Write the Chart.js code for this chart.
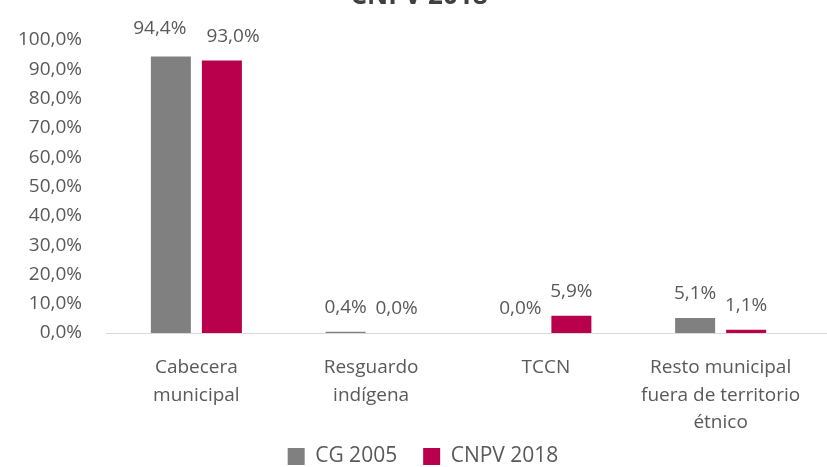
<!DOCTYPE html>
<html>
<head>
<meta charset="utf-8">
<script src="https://cdn.jsdelivr.net/npm/chart.js@4/dist/chart.umd.min.js"></script>
<style>
  html, body { margin: 0; padding: 0; background: #ffffff; }
  #wrap { width: 827px; height: 467px; position: relative; overflow: hidden; }
</style>
</head>
<body>
<div id="wrap"><canvas id="chart" width="827" height="467"></canvas></div>
<script>
// Share of population by area type, two census rounds
const categories = [
  ["Cabecera", "municipal"],
  ["Resguardo", "indígena"],
  "TCCN",
  ["Resto municipal", "fuera de territorio", "étnico"]
];
const cg2005 = [94.4, 0.4, 0.0, 5.1];
const cnpv2018 = [93.0, 0.0, 5.9, 1.1];
const seriesNames = ["CG 2005", "CNPV 2018"];
const yTickMax = 100;
const yTickStep = 10;
const titleText = "CNPV 2018";

const FONT = '"Open Sans", "Segoe UI", "DejaVu Sans", sans-serif';
const TEXT = '#595959';
const GRAY = '#808080';
const RED = '#B8004C';

const pct = v => v.toFixed(1).replace('.', ',') + '%';

// Bold title line, partly above the canvas top edge
const titlePlugin = {
  id: 'titleLine',
  afterDraw(chart) {
    const ctx = chart.ctx;
    ctx.save();
    ctx.font = 'bold 26px ' + FONT;
    ctx.fillStyle = '#404040';
    ctx.textAlign = 'center';
    ctx.textBaseline = 'alphabetic';
    ctx.fillText(titleText, 419, 4);
    ctx.restore();
  }
};

// Baseline under the bars, running out to the right edge
const baseLine = {
  id: 'baseLine',
  beforeDatasetsDraw(chart) {
    const { ctx, chartArea } = chart;
    const y = Math.round(chartArea.bottom) + 0.5;
    ctx.save();
    ctx.strokeStyle = '#D9D9D9';
    ctx.lineWidth = 1;
    ctx.beginPath();
    ctx.moveTo(chartArea.left - 3, y);
    ctx.lineTo(chart.width, y);
    ctx.stroke();
    ctx.restore();
  }
};

// Value labels above each bar; neighbours that would collide are spread apart
const valueLabels = {
  id: 'valueLabels',
  afterDatasetsDraw(chart) {
    const ctx = chart.ctx;
    ctx.save();
    ctx.font = '19px ' + FONT;
    ctx.fillStyle = TEXT;
    ctx.textAlign = 'center';
    ctx.textBaseline = 'middle';
    const n = chart.data.labels.length;
    for (let i = 0; i < n; i++) {
      const items = chart.data.datasets.map((ds, d) => {
        const bar = chart.getDatasetMeta(d).data[i];
        const txt = pct(ds.data[i]);
        return { x: bar.x, y: bar.y - 24, w: ctx.measureText(txt).width, txt };
      });
      for (let k = 1; k < items.length; k++) {
        const a = items[k - 1], b = items[k];
        const overlap = (a.x + a.w / 2) - (b.x - b.w / 2);
        if (overlap > 0) {
          const push = (overlap + 20) / 2;
          a.x -= push; a.y -= 4;
          b.x += push;
        }
      }
      items.forEach(it => ctx.fillText(it.txt, it.x, it.y));
    }
    ctx.restore();
  }
};

// Move the legend block to sit under the labels
const legendShift = { x: 19, y: -18 };
const legendPlace = {
  id: 'legendPlace',
  afterLayout(chart) {
    const lg = chart.legend;
    if (!lg) return;
    lg.left += legendShift.x; lg.right += legendShift.x;
    lg.top += legendShift.y; lg.bottom += legendShift.y;
  }
};

new Chart(document.getElementById('chart'), {
  type: 'bar',
  data: {
    labels: categories,
    datasets: [
      { label: seriesNames[0], data: cg2005, backgroundColor: GRAY, borderWidth: 0,
        categoryPercentage: 0.584, barPercentage: 0.784 },
      { label: seriesNames[1], data: cnpv2018, backgroundColor: RED, borderWidth: 0,
        categoryPercentage: 0.584, barPercentage: 0.784 }
    ]
  },
  options: {
    responsive: false,
    animation: false,
    devicePixelRatio: 1,
    layout: { padding: { top: 40, right: 19, left: 0, bottom: -28 } },
    scales: {
      x: {
        grid: { display: false, drawTicks: false },
        border: { display: false },
        ticks: {
          color: TEXT,
          font: { family: FONT, size: 19, lineHeight: 1.45 },
          padding: 21,
          maxRotation: 0,
          autoSkip: false
        },
        afterFit(scale) { scale.height = 105; }
      },
      y: {
        min: 0,
        max: yTickMax,
        grid: { display: false, drawTicks: false },
        border: { display: false },
        ticks: {
          stepSize: yTickStep,
          color: TEXT,
          font: { family: FONT, size: 19 },
          padding: 27,
          callback: v => pct(v)
        },
        afterFit(scale) { scale.width = 109; }
      }
    },
    plugins: {
      legend: {
        position: 'bottom',
        labels: {
          color: TEXT,
          font: { family: FONT, size: 21 },
          boxWidth: 17,
          boxHeight: 17,
          padding: 26
        }
      },
      tooltip: { enabled: false },
      title: { display: false }
    }
  },
  plugins: [baseLine, valueLabels, titlePlugin, legendPlace]
});
</script>
</body>
</html>
